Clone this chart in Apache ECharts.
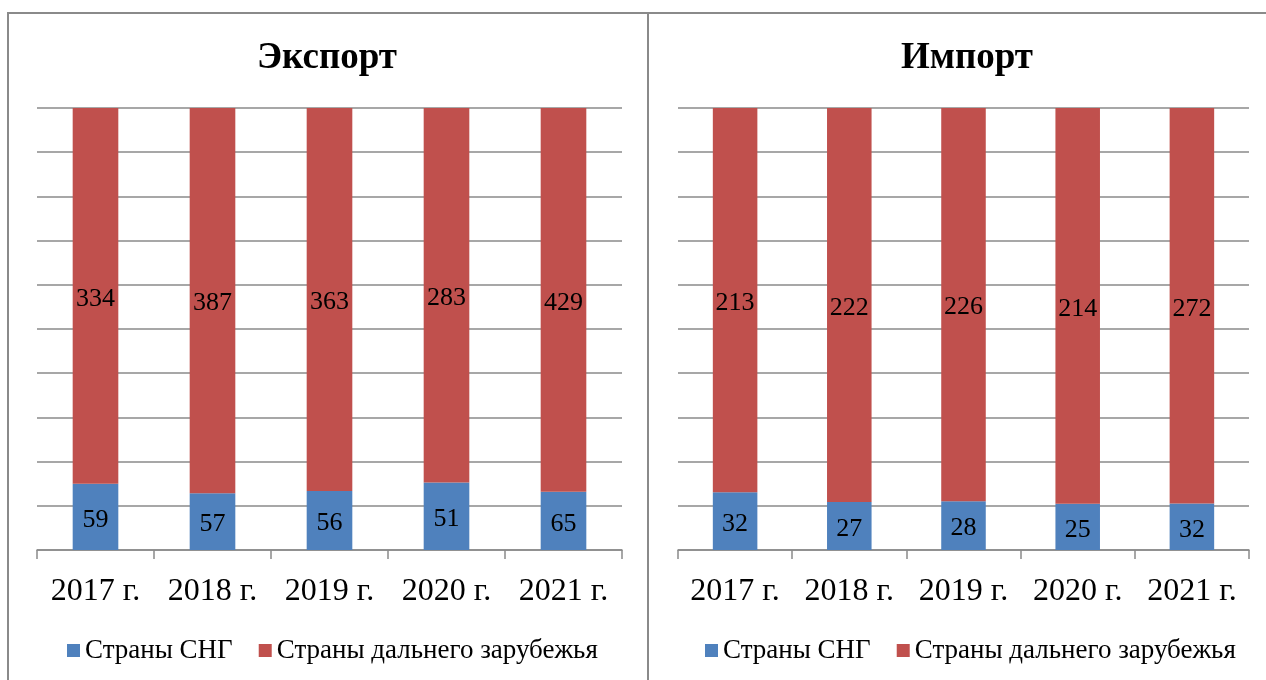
<!DOCTYPE html>
<html>
<head>
<meta charset="utf-8">
<script src="https://cdn.jsdelivr.net/npm/echarts@6/dist/echarts.min.js"></script>
<style>
  html, body { margin: 0; padding: 0; background: #fff; }
  #chart { width: 1266px; height: 680px; }
</style>
</head>
<body>
<div id="chart"></div>
<script>
  var years = ['2017 г.', '2018 г.', '2019 г.', '2020 г.', '2021 г.'];
  var exportCis = [59, 57, 56, 51, 65];
  var exportFar = [334, 387, 363, 283, 429];
  var importCis = [32, 27, 28, 25, 32];
  var importFar = [213, 222, 226, 214, 272];
  var seriesNames = ['Страны СНГ', 'Страны дальнего зарубежья'];

  var font = '"Liberation Serif", "Times New Roman", serif';
  var blue = '#4F81BD';
  var red = '#C0504D';
  var gray = '#8a8a8a';

  // percent-stacked: bar height = share, label = raw value
  function share(part, a, b) {
    return part.map(function (v, i) {
      return { value: v / (a[i] + b[i]) * 100, raw: v };
    });
  }

  var chartDom = document.getElementById('chart');
  var myChart = echarts.init(chartDom);

  function xAxisCfg(idx) {
    return {
      type: 'category',
      gridIndex: idx,
      data: years,
      axisLine: { lineStyle: { color: gray, width: 1.5 } },
      axisTick: { show: true, interval: 0, length: 9, lineStyle: { color: gray, width: 1.5 } },
      axisLabel: { interval: 0, hideOverlap: false, color: '#000', fontFamily: font, fontSize: 32, margin: 26 }
    };
  }
  function yAxisCfg(idx) {
    return {
      type: 'value',
      gridIndex: idx,
      min: 0,
      max: 100,
      interval: 10,
      axisLabel: { show: false },
      axisLine: { show: false },
      axisTick: { show: false },
      splitLine: { lineStyle: { color: gray, width: 1.5 } }
    };
  }
  var labelCfg = {
    show: true,
    position: 'inside',
    offset: [0, 3],
    color: '#000',
    fontFamily: font,
    fontSize: 26,
    formatter: function (p) { return p.data.raw; }
  };
  function bar(name, color, idx, data) {
    return {
      name: name,
      type: 'bar',
      stack: 'total' + idx,
      xAxisIndex: idx,
      yAxisIndex: idx,
      barWidth: '39%',
      itemStyle: { color: color },
      label: labelCfg,
      data: data
    };
  }

  var option = {
    animation: false,
    color: [blue, red],
    graphic: [
      { type: 'rect', shape: { x: 8, y: 13, width: 640, height: 700 },
        style: { fill: 'none', stroke: gray, lineWidth: 2 }, silent: true },
      { type: 'rect', shape: { x: 648, y: 13, width: 700, height: 700 },
        style: { fill: 'none', stroke: gray, lineWidth: 2 }, silent: true }
    ],
    title: [
      { text: 'Экспорт', left: 322, top: 35, textAlign: 'center',
        textStyle: { fontFamily: font, fontSize: 37, fontWeight: 'bold', color: '#000' } },
      { text: 'Импорт', left: 962, top: 35, textAlign: 'center',
        textStyle: { fontFamily: font, fontSize: 37, fontWeight: 'bold', color: '#000' } }
    ],
    legend: [
      { data: seriesNames, left: 67, top: 637, padding: 0, itemWidth: 13, itemHeight: 13, itemGap: 26,
        icon: 'rect', textStyle: { fontFamily: font, fontSize: 27, color: '#000' } },
      { data: seriesNames, left: 705, top: 637, padding: 0, itemWidth: 13, itemHeight: 13, itemGap: 26,
        icon: 'rect', textStyle: { fontFamily: font, fontSize: 27, color: '#000' } }
    ],
    grid: [
      { left: 37, width: 585, top: 108, height: 442 },
      { left: 678, width: 571, top: 108, height: 442 }
    ],
    xAxis: [xAxisCfg(0), xAxisCfg(1)],
    yAxis: [yAxisCfg(0), yAxisCfg(1)],
    series: [
      bar(seriesNames[0], blue, 0, share(exportCis, exportCis, exportFar)),
      bar(seriesNames[1], red, 0, share(exportFar, exportCis, exportFar)),
      bar(seriesNames[0], blue, 1, share(importCis, importCis, importFar)),
      bar(seriesNames[1], red, 1, share(importFar, importCis, importFar))
    ]
  };
  option && myChart.setOption(option);
</script>
</body>
</html>
